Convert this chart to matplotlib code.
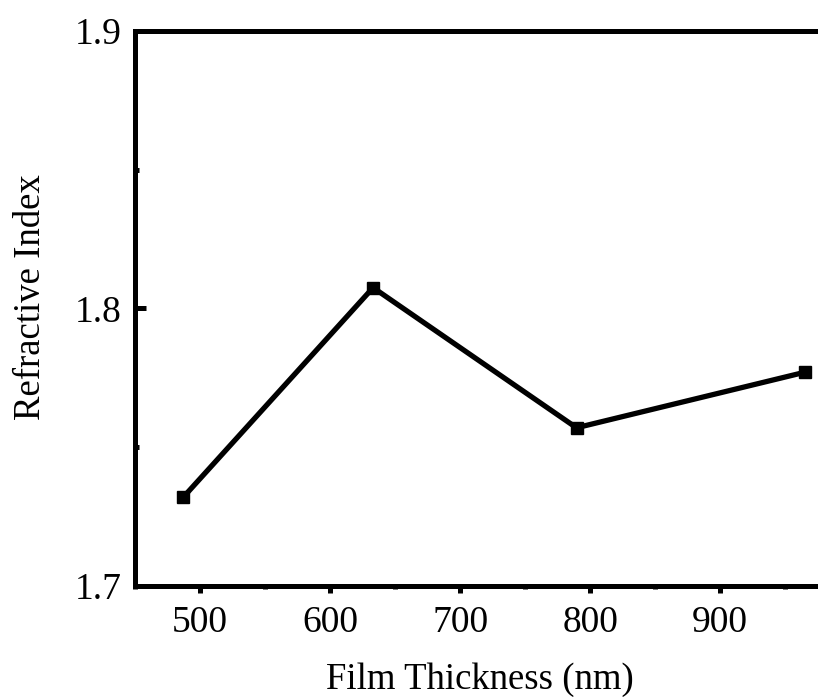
import matplotlib
matplotlib.use("Agg")
import matplotlib.pyplot as plt
from matplotlib.ticker import MultipleLocator

# Film thickness (nm) and measured refractive index
thickness = [487, 633, 789.5, 965]
refr_index = [1.732, 1.8075, 1.757, 1.777]

x_ticks = [500, 600, 700, 800, 900]
y_ticks = [1.7, 1.8, 1.9]

plt.rcParams['font.family'] = ['Liberation Serif', 'DejaVu Serif']

fig = plt.figure(figsize=(8.18, 6.97), dpi=100)
ax = fig.add_axes([0.1653, 0.1593, 0.874, 0.7963])

ax.plot(thickness, refr_index, color='black', linewidth=3.8,
        marker='s', markersize=9, markerfacecolor='black',
        markeredgecolor='black', clip_on=False, zorder=3)

ax.set_xlim(450, 1000)
ax.set_ylim(1.7, 1.9)
ax.set_xticks(x_ticks)
ax.set_yticks(y_ticks)
ax.set_yticklabels(['1.7', '1.8', '1.9'])
ax.xaxis.set_minor_locator(MultipleLocator(50))
ax.yaxis.set_minor_locator(MultipleLocator(0.05))

for s in ax.spines.values():
    s.set_linewidth(3.6)

ax.tick_params(axis='x', which='major', direction='out', length=5, width=3.6,
               labelsize=27, pad=9)
ax.tick_params(axis='x', which='minor', direction='out', length=2.5, width=3.6)
ax.tick_params(axis='y', which='major', direction='in', length=8, width=3.6,
               labelsize=27, pad=10)
ax.tick_params(axis='y', which='minor', direction='in', length=3, width=3.6)

ax.set_xlabel('Film Thickness (nm)', fontsize=26.5)
ax.xaxis.set_label_coords(0.4825, -0.169)
ax.xaxis.label.set_va('center')
ax.set_ylabel('Refractive Index', fontsize=26.5)
ax.yaxis.set_label_coords(-0.146, 0.521)
ax.yaxis.label.set_va('center')

fig.savefig('out.png', dpi=100)
